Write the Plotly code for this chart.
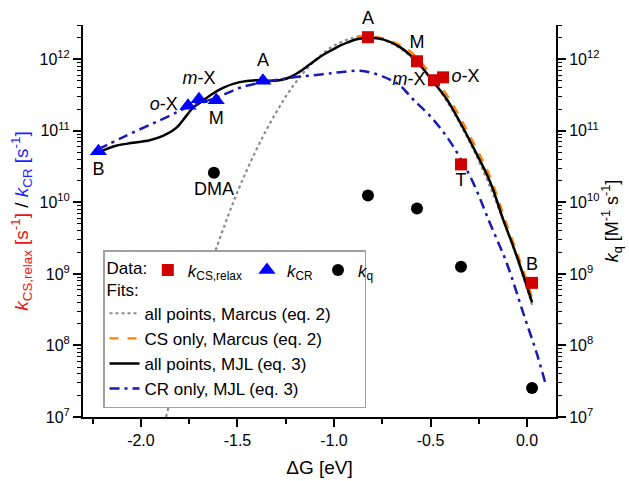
import plotly.graph_objects as go

# ---------------- data ----------------
# k_CS,relax (red squares)
cs_dg = [-0.824, -0.570, -0.482, -0.435, -0.342, 0.026]
cs_k = [2.04e12, 9.4e11, 5.1e11, 5.6e11, 3.4e10, 7.5e8]
cs_lab = ["A", "M", "<i>m</i>-X", "<i>o</i>-X", "T", "B"]
cs_pos = ["top center", "top center", "middle left", "middle right", "bottom center", "top center"]

# k_CR (blue triangles)
cr_dg = [-2.220, -1.756, -1.699, -1.610, -1.368]
cr_k = [5.2e10, 2.25e11, 2.76e11, 2.68e11, 5.0e11]
cr_lab = ["B", "<i>o</i>-X", "<i>m</i>-X", "M", "A"]
cr_pos = ["bottom center", "middle left", "top center", "bottom center", "top center"]

# k_q (black circles, right axis)
kq_dg = [-1.622, -0.824, -0.570, -0.342, 0.026]
kq_k = [2.6e10, 1.25e10, 8.2e9, 1.26e9, 2.55e7]
kq_lab = ["DMA", " ", " ", " ", " "]

# fit: all points, Marcus (grey dotted)
marc_all_dg = [-1.87, -1.80, -1.70, -1.60, -1.50, -1.40, -1.30, -1.20, -1.10, -1.00, -0.90,
               -0.84, -0.75, -0.65, -0.55, -0.45, -0.35, -0.25, -0.15, -0.05, 0.026]
marc_all_k = [1.0e7, 5.1e7, 4.2e8, 2.7e9, 1.4e10, 5.6e10, 1.8e11, 4.7e11, 9.5e11, 1.55e12, 2.0e12,
              2.1e12, 1.9e12, 1.38e12, 7.9e11, 3.6e11, 1.3e11, 3.8e10, 8.7e9, 1.6e9, 3.7e8]

# fit: CS only, Marcus (orange dashed)
marc_cs_dg = [-0.88, -0.80, -0.70, -0.60, -0.50, -0.40, -0.30, -0.20, -0.10, -0.027, 0.026]
marc_cs_k = [2.1e12, 2.1e12, 1.78e12, 1.26e12, 6.3e11, 2.75e11, 8.9e10, 2.6e10, 4.5e9, 1.29e9, 4.7e8]

# fit: all points, MJL (black solid)
mjl_all_dg = [-2.206, -2.128, -2.041, -1.955, -1.886, -1.817, -1.765, -1.731, -1.696, -1.644,
              -1.575, -1.489, -1.403, -1.316, -1.270, -1.228, -1.185, -1.140, -1.100, -1.057,
              -1.010, -0.969, -0.925, -0.882, -0.824, -0.746, -0.658, -0.570, -0.487, -0.415,
              -0.347, -0.280, -0.190, -0.124, -0.052, 0.026]
mjl_all_k = [5.2e10, 6.2e10, 6.8e10, 7.4e10, 8.5e10, 1.1e11, 1.62e11, 2.1e11, 2.45e11, 3.1e11,
             4.0e11, 4.8e11, 5.1e11, 5.0e11, 5.19e11, 5.62e11, 6.53e11, 7.94e11, 9.55e11, 1.15e12,
             1.35e12, 1.55e12, 1.74e12, 1.91e12, 2.0e12, 1.9e12, 1.48e12, 9.3e11, 4.9e11, 2.75e11,
             1.32e11, 6.0e10, 1.9e10, 5.8e9, 1.74e9, 4.0e8]

# fit: CR only, MJL (blue dash-dot)
mjl_cr_dg = [-2.223, -2.100, -1.950, -1.850, -1.765, -1.610, -1.487, -1.368, -1.228, -1.057,
             -0.969, -0.865, -0.779, -0.710, -0.658, -0.590, -0.503, -0.416, -0.347, -0.278,
             -0.192, -0.105, -0.019, 0.050, 0.093]
mjl_cr_k = [5.5e10, 8.0e10, 1.23e11, 1.63e11, 2.1e11, 2.9e11, 4.0e11, 4.8e11, 5.5e11, 6.2e11,
            6.6e11, 6.9e11, 6.2e11, 5.2e11, 4.3e11, 2.75e11, 1.62e11, 8.3e10, 4.2e10, 1.86e10,
            5.1e9, 1.41e9, 2.8e8, 7.8e7, 3.1e7]

# axis ticks
x_tickvals = [-2.0, -1.5, -1.0, -0.5, 0.0]
x_ticktext = ["-2.0", "-1.5", "-1.0", "-0.5", "0.0"]
y_tickvals = [1e7, 1e8, 1e9, 1e10, 1e11, 1e12]
y_ticktext = ["10<sup>7</sup>", "10<sup>8</sup>", "10<sup>9</sup>", "10<sup>10</sup>",
              "10<sup>11</sup>", "10<sup>12</sup>"]

FONT = "Liberation Sans, Arial, sans-serif"
RED = "#d00000"
BLUE = "#0000ff"
NAVY = "#1a1ab4"
LEGFONT = 17
PAD = "\u00a0" * 6

fig = go.Figure()

# fits (legend "Fits:")
fig.add_trace(go.Scatter(x=marc_all_dg, y=marc_all_k, mode="lines", line_shape="spline",
                         line=dict(color="#8c8c8c", width=2.2, dash="dot"),
                         name="all points, Marcus (eq. 2)" + PAD, legend="legend"))
fig.add_trace(go.Scatter(x=marc_cs_dg, y=marc_cs_k, mode="lines", line_shape="spline",
                         line=dict(color="#ff8000", width=2.2, dash="dash"),
                         name="CS only, Marcus (eq. 2)", legend="legend"))
fig.add_trace(go.Scatter(x=mjl_all_dg, y=mjl_all_k, mode="lines", line_shape="spline",
                         line=dict(color="black", width=2.5),
                         name="all points, MJL (eq. 3)", legend="legend"))
fig.add_trace(go.Scatter(x=mjl_cr_dg, y=mjl_cr_k, mode="lines", line_shape="spline",
                         line=dict(color=NAVY, width=2.5, dash="10px,5px,3px,5px"),
                         name="CR only, MJL (eq. 3)", legend="legend"))

# data (legend "Data:")
fig.add_trace(go.Scatter(x=cs_dg, y=cs_k, mode="markers+text", text=cs_lab, textposition=cs_pos,
                         textfont=dict(size=18, color="black", family=FONT),
                         marker=dict(symbol="square", size=12, color=RED),
                         cliponaxis=False,
                         name="<i>k</i><sub>CS,relax</sub>", legend="legend2"))
fig.add_trace(go.Scatter(x=cr_dg, y=cr_k, mode="markers+text", text=cr_lab, textposition=cr_pos,
                         textfont=dict(size=18, color="black", family=FONT),
                         marker=dict(symbol="triangle-up", size=15, color=BLUE),
                         cliponaxis=False,
                         name="<i>k</i><sub>CR</sub>", legend="legend2"))
fig.add_trace(go.Scatter(x=kq_dg, y=kq_k, mode="markers+text", text=kq_lab,
                         textposition="bottom center",
                         textfont=dict(size=18, color="black", family=FONT),
                         marker=dict(symbol="circle", size=12, color="black"),
                         yaxis="y2", cliponaxis=False,
                         name="<i>k</i><sub>q</sub>", legend="legend2"))

yr = [7, 12.48]
axis_common = dict(showline=True, linecolor="black", linewidth=2, ticks="outside",
                   ticklen=8, tickwidth=1.5, tickcolor="black", showgrid=False, zeroline=False,
                   automargin=False,
                   tickfont=dict(size=16, family=FONT, color="black"))

fig.update_layout(
    width=629, height=481,
    margin=dict(l=83, r=73, t=25, b=64),
    paper_bgcolor="white", plot_bgcolor="white",
    font=dict(family=FONT, size=16, color="black"),
    xaxis=dict(range=[-2.3, 0.15], tickvals=x_tickvals, ticktext=x_ticktext,
               minor=dict(dtick=0.25, tick0=0, ticks="outside", ticklen=5, tickwidth=1.5,
                          tickcolor="black", showgrid=False),
               title=dict(text="ΔG [eV]", font=dict(size=19, family=FONT), standoff=12),
               **axis_common),
    yaxis=dict(type="log", range=yr, tickvals=y_tickvals, ticktext=y_ticktext,
               minor=dict(dtick="D1", ticks="outside", ticklen=4, tickwidth=1,
                          tickcolor="black", showgrid=False),
               title=dict(text='<span style="color:#ee1111"><i>k</i><sub>CS,relax</sub> [s<sup>-1</sup>]</span>'
                               ' / <span style="color:#1f1fff"><i>k</i><sub>CR</sub> [s<sup>-1</sup>]</span>',
                          font=dict(size=19, family=FONT), standoff=6),
               **axis_common),
    yaxis2=dict(type="log", range=yr, overlaying="y", side="right",
                tickvals=y_tickvals, ticktext=y_ticktext,
                minor=dict(dtick="D1", ticks="outside", ticklen=4, tickwidth=1,
                           tickcolor="black", showgrid=False),
                title=dict(text="<i>k</i><sub>q</sub> [M<sup>-1</sup> s<sup>-1</sup>]",
                           font=dict(size=18, family=FONT), standoff=4),
                **axis_common),
    legend=dict(x=0.0423, y=0.426, xanchor="left", yanchor="top",
                title=dict(text="Data:<br>Fits:", side="top",
                           font=dict(size=LEGFONT, family=FONT)),
                bgcolor="white", bordercolor="#a0a0a0", borderwidth=1.5,
                font=dict(size=LEGFONT, family=FONT),
                tracegroupgap=0, itemwidth=30),
    legend2=dict(x=0.137, y=0.42, xanchor="left", yanchor="top", orientation="h",
                 bgcolor="rgba(0,0,0,0)", borderwidth=0,
                 font=dict(size=LEGFONT, family=FONT), itemwidth=30),
    showlegend=True,
)

fig.write_html("out.html", config={"displayModeBar": False},
               post_script="document.body.style.margin='0px';")
